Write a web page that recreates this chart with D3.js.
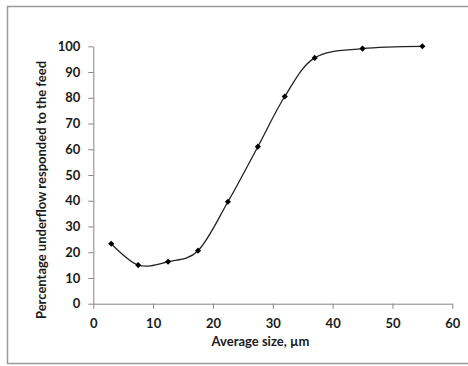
<!DOCTYPE html>
<html>
<head>
<meta charset="utf-8">
<script src="https://d3js.org/d3.v7.min.js"></script>
<style>
  body { margin: 0; background: #fff; }
  text { font-family: Lato, "Open Sans", sans-serif; fill: #1a1a1a; }
</style>
</head>
<body>
<div id="chart"></div>
<script>
var sizes = [3, 7.5, 12.5, 17.5, 22.5, 27.5, 32, 37, 45, 55];
var underflow = [23.3, 15.0, 16.3, 20.6, 39.6, 61, 80.5, 95.5, 99.1, 100];
var xTicks = [0, 10, 20, 30, 40, 50, 60];
var yTicks = [0, 10, 20, 30, 40, 50, 60, 70, 80, 90, 100];

var width = 468, height = 366;

var svg = d3.select("#chart").append("svg")
    .attr("width", width)
    .attr("height", height);

// chart area border
svg.append("rect")
    .attr("x", 7.5).attr("y", 6.5)
    .attr("width", 470).attr("height", 357)
    .attr("fill", "none")
    .attr("stroke", "#9a9a9a")
    .attr("stroke-width", 1.5);

var x = d3.scaleLinear().domain([0, 60]).range([93.3, 452.3]);
var y = d3.scaleLinear().domain([0, 100]).range([303.7, 46.3]);

// y axis
var yAxis = svg.append("g")
    .attr("transform", "translate(" + x(0) + ",0)")
    .call(d3.axisLeft(y).tickValues(yTicks).tickSize(5).tickSizeOuter(0).tickPadding(8));
yAxis.selectAll("text").style("font-size", "13px").style("font-weight", "bold");

// x axis
var xAxis = svg.append("g")
    .attr("transform", "translate(0," + y(0) + ")")
    .call(d3.axisBottom(x).tickValues(xTicks).tickSize(5).tickSizeOuter(0).tickPadding(10));
xAxis.selectAll("text").style("font-size", "13px").style("font-weight", "bold");

svg.selectAll(".domain, .tick line").attr("stroke", "#868686");

// smoothed line
var pts = sizes.map(function(s, i) { return [s, underflow[i]]; });
var line = d3.line()
    .x(function(d) { return x(d[0]); })
    .y(function(d) { return y(d[1]); })
    .curve(d3.curveCardinal.tension(0));

svg.append("path")
    .datum(pts)
    .attr("d", line)
    .attr("fill", "none")
    .attr("stroke", "#222")
    .attr("stroke-width", 1.3);

// diamond markers
svg.selectAll(".pt")
    .data(pts)
    .enter()
    .append("path")
    .attr("class", "pt")
    .attr("d", d3.symbol().type(d3.symbolDiamond2).size(24))
    .attr("transform", function(d) { return "translate(" + x(d[0]) + "," + y(d[1]) + ")"; })
    .attr("fill", "#000");

// axis titles
svg.append("text")
    .attr("x", 260.5).attr("y", 346)
    .attr("text-anchor", "middle")
    .style("font-size", "13px")
    .style("font-weight", "bold")
    .text("Average size, µm");

svg.append("text")
    .attr("transform", "translate(46,190) rotate(-90)")
    .attr("text-anchor", "middle")
    .style("font-size", "13px")
    .style("font-weight", "bold")
    .text("Percentage underflow responded to the feed");
</script>
</body>
</html>
